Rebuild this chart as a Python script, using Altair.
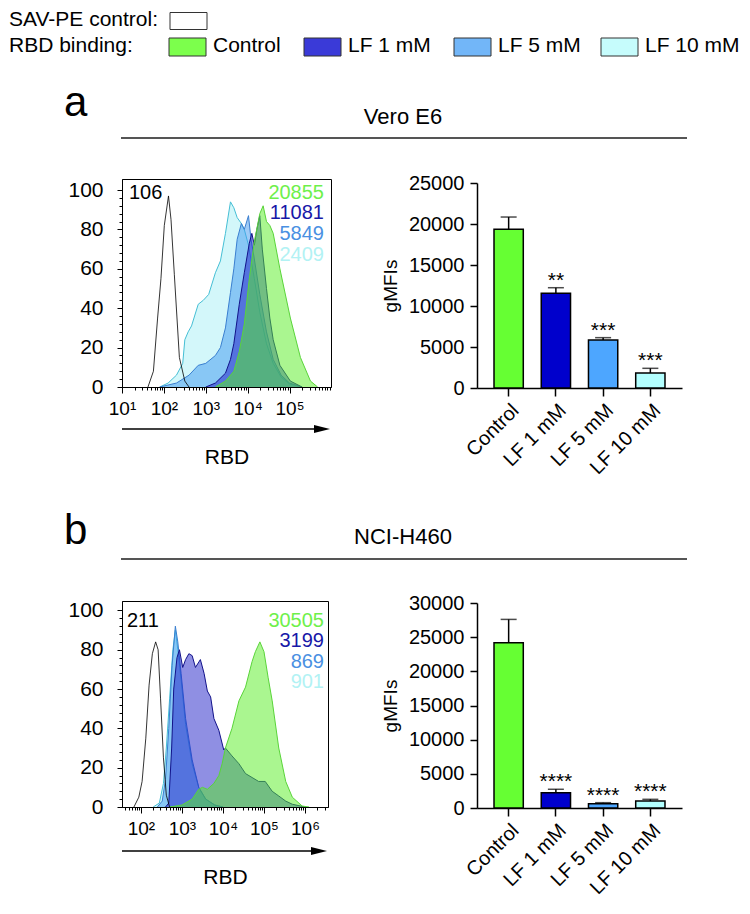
import math
import altair as alt
import pandas as pd

FONT = "Liberation Sans"

# ---------------- data ----------------
GROUPS = ["Control", "LF 1 mM", "LF 5 mM", "LF 10 mM"]
BAR_COLORS = ["#66ff33", "#0000cc", "#4da6ff", "#b3ffff"]
LEGEND_COLORS = ["#7cff4c", "#3a3ad8", "#72b6f8", "#c6fcfc"]
AREA_FILLS = ["#55ee22", "#2020c8", "#3d97f0", "#a8f0f5"]
AREA_LINES = ["#5ad43a", "#12128a", "#3a7fd0", "#45bfd5"]
TEXT_COLORS = ["#6ef04a", "#1818a8", "#4a90e2", "#b2f2f4"]

# bar charts (gMFI mean and SD)
VERO_MEAN = [19350, 11550, 5850, 1830]
VERO_SD = [1500, 680, 290, 570]
VERO_STARS = ["", "**", "***", "***"]
NCI_MEAN = [24200, 2240, 630, 1020]
NCI_SD = [3400, 500, 150, 250]
NCI_STARS = ["", "****", "****", "****"]

# histogram MFI labels: SAV-PE, Control, LF 1, LF 5, LF 10
VERO_MFI = ["106", "20855", "11081", "5849", "2409"]
NCI_MFI = ["211", "30505", "3199", "869", "901"]

# histogram curves (x = log10 RBD, y = % of max)
VERO_SAV_X = [1.62, 1.75, 1.85, 1.93, 2.01, 2.11, 2.17, 2.25, 2.37, 2.5, 2.6]
VERO_SAV_Y = [0, 8, 35, 55, 82, 97, 85, 57, 15, 3, 0]
VERO_CTRL_X = [3.23, 3.47, 3.67, 3.8, 3.92, 4.04, 4.16, 4.29, 4.37, 4.45, 4.53, 4.61, 4.77, 5.02, 5.26, 5.5, 5.67]
VERO_CTRL_Y = [0, 3, 8, 18, 32, 55, 74, 88, 92, 84, 82, 78, 60, 35, 15, 3, 0]
VERO_LF1_X = [3.0, 3.23, 3.47, 3.59, 3.67, 3.8, 3.92, 4.04, 4.1, 4.16, 4.22, 4.29, 4.35, 4.45, 4.53, 4.61, 4.77, 5.02, 5.3]
VERO_LF1_Y = [0, 2, 7, 14, 22, 42, 58, 73, 78, 72, 80, 87, 70, 50, 35, 24, 11, 3, 0]
VERO_LF5_X = [1.9, 2.3, 2.6, 2.82, 3.0, 3.23, 3.35, 3.47, 3.59, 3.67, 3.75, 3.85, 3.92, 4.02, 4.08, 4.16, 4.29, 4.45, 4.61, 4.8, 5.0, 5.3]
VERO_LF5_Y = [0, 2, 6, 11, 12, 16, 20, 30, 48, 60, 75, 83, 80, 87, 75, 65, 47, 28, 14, 6, 2, 0]
VERO_LF10_X = [1.9, 2.1, 2.3, 2.45, 2.5, 2.58, 2.66, 2.82, 2.94, 3.07, 3.23, 3.35, 3.47, 3.59, 3.67, 3.75, 3.85, 3.92, 4.02, 4.16, 4.29, 4.45, 4.61, 4.8, 5.0, 5.3]
VERO_LF10_Y = [0, 2, 6, 12, 24, 28, 31, 42, 44, 47, 58, 64, 78, 94, 91, 86, 83, 80, 72, 55, 38, 22, 12, 5, 1.5, 0]

NCI_SAV_X = [1.83, 1.95, 2.03, 2.12, 2.2, 2.28, 2.36, 2.42, 2.48, 2.55, 2.62, 2.7]
NCI_SAV_Y = [0, 5, 13, 35, 62, 78, 84, 80, 55, 25, 6, 0]
NCI_CTRL_X = [2.7, 3.0, 3.25, 3.41, 3.5, 3.62, 3.78, 3.9, 3.98, 4.06, 4.22, 4.39, 4.55, 4.71, 4.79, 4.9, 5.0, 5.1, 5.2, 5.36, 5.53, 5.69, 5.93, 6.1]
NCI_CTRL_Y = [0, 1, 4, 9, 10, 9, 12, 16, 22, 30, 40, 54, 61, 74, 79, 84, 79, 66, 54, 30, 13, 5, 0.5, 0]
NCI_LF1_X = [2.6, 2.68, 2.75, 2.8, 2.88, 2.94, 3.02, 3.09, 3.17, 3.25, 3.33, 3.45, 3.54, 3.62, 3.7, 3.78, 3.9, 4.02, 4.06, 4.22, 4.39, 4.55, 4.71, 4.87, 5.03, 5.2, 5.36, 5.53, 5.69, 6.0]
NCI_LF1_Y = [0, 2, 30, 60, 76, 80, 71, 75, 78, 77, 71, 75, 68, 59, 56, 45, 39, 29, 30, 26, 22, 17, 15, 13, 13, 8, 5.6, 3, 1.4, 0]
NCI_LF5_X = [2.4, 2.52, 2.6, 2.68, 2.76, 2.84, 2.9, 2.98, 3.09, 3.25, 3.41, 3.58, 3.8, 4.0]
NCI_LF5_Y = [0, 3, 14, 40, 72, 92, 84, 68, 45, 24, 10, 4, 1, 0]
NCI_LF10_X = [2.3, 2.45, 2.55, 2.62, 2.7, 2.78, 2.84, 2.9, 2.98, 3.09, 3.25, 3.41, 3.58, 3.8, 4.0]
NCI_LF10_Y = [0, 2, 12, 30, 55, 80, 90, 80, 65, 42, 22, 10, 4, 1, 0]

DUMMY = pd.DataFrame({"v": [0]})
X0 = 123  # page x of the left column's plot origin
Y0 = 8    # page y of the top row's origin


def hist_panel(curves, sav, mfi, xdom, width, height, ymax, ann_y, left_x, right_x, arrow_dy):
    major = "abs(datum.value - round(datum.value)) < 0.001"
    xvals = []
    for d in range(math.floor(xdom[0]), math.ceil(xdom[1]) + 1):
        for k in range(1, 10):
            v = round(d + math.log10(k), 4)
            if xdom[0] - 1e-9 <= v <= xdom[1] + 1e-9:
                xvals.append(v)
    sup = "['\u2070','\u00b9','\u00b2','\u00b3','\u2074','\u2075','\u2076','\u2077']"
    x_axis = alt.Axis(
        values=xvals,
        labelExpr=f"{major} ? '10' + {sup}[round(datum.value)] : ''",
        tickSize={"condition": {"test": major, "value": 6}, "value": 3},
        labelOverlap=False, labelFlush=False, labelFontSize=19, labelPadding=6,
        titleFontSize=21, titlePadding=28, domainColor="black", tickColor="black",
        labelColor="black", grid=False,
    )
    y_axis = alt.Axis(
        values=list(range(0, 101, 4)),
        labelExpr="datum.value % 20 === 0 ? '' + datum.value : ''",
        tickSize={"condition": {"test": "datum.value % 20 === 0", "value": 5}, "value": 3},
        labelOverlap=False, labelFontSize=21, labelPadding=14,
        domainColor="black", tickColor="black", labelColor="black", grid=False,
    )
    X = alt.X("x:Q", scale=alt.Scale(domain=xdom, nice=False, zero=False), axis=x_axis, title="RBD")
    Y = alt.Y("y:Q", scale=alt.Scale(domain=[0, ymax], nice=False), axis=y_axis, title=None)

    layers = []
    for xs, ys, fill, line in curves:
        df = pd.DataFrame({"x": xs, "y": ys})
        layers.append(
            alt.Chart(df).mark_area(
                color=fill, fillOpacity=0.5, clip=True,
                line=alt.OverlayMarkDef(color=line, strokeWidth=1),
            ).encode(x=X, y=Y)
        )
    sdf = pd.DataFrame({"x": sav[0], "y": sav[1]})
    layers.append(alt.Chart(sdf).mark_line(color="black", strokeWidth=0.8, clip=True).encode(x=X, y=Y))

    # MFI annotations
    tdf = pd.DataFrame({"t": [mfi[0]]})
    layers.append(
        alt.Chart(tdf).mark_text(align="left", baseline="middle", fontSize=20, color="black")
        .encode(x=alt.value(left_x), y=alt.value(ann_y[0]), text="t:N")
    )
    for i in range(4):
        tdf = pd.DataFrame({"t": [mfi[i + 1]]})
        layers.append(
            alt.Chart(tdf).mark_text(align="right", baseline="middle", fontSize=20, color=TEXT_COLORS[i])
            .encode(x=alt.value(right_x), y=alt.value(ann_y[i]), text="t:N")
        )
    # arrow under axis
    layers.append(
        alt.Chart(DUMMY).mark_rule(color="black", strokeWidth=1.6)
        .encode(x=alt.value(0), x2=alt.value(width - 14), y=alt.value(height + arrow_dy))
    )
    layers.append(
        alt.Chart(DUMMY).mark_point(shape="M-1,-0.5L1,0L-1,0.5Z", filled=True, color="black",
                                    opacity=1, size=256, strokeWidth=0)
        .encode(x=alt.value(width - 9), y=alt.value(height + arrow_dy))
    )
    return alt.layer(*layers).properties(
        width=width, height=height, view=alt.ViewBackground(stroke="black", strokeWidth=1)
    )


def bar_panel(means, sds, stars, ymax, step, height, top_off):
    df = pd.DataFrame({
        "g": GROUPS, "m": means,
        "top": [m + s for m, s in zip(means, sds)], "star": stars,
    })
    X = alt.X("g:N", sort=GROUPS, title=None,
              scale=alt.Scale(paddingInner=0.38, paddingOuter=0.36),
              axis=alt.Axis(labelAngle=-45, labelFontSize=20, labelPadding=4, tickSize=8,
                            tickWidth=1.5, domainWidth=1.5, domainColor="black",
                            tickColor="black", labelColor="black"))
    yscale = alt.Scale(domain=[0, ymax], nice=False, range=[height, top_off])
    yaxis = alt.Axis(values=list(range(0, ymax + 1, step)), format="d", labelFontSize=20,
                     labelPadding=6, tickSize=7, tickWidth=1.5, domainWidth=1.5,
                     domainColor="black", tickColor="black", labelColor="black",
                     titleFontSize=19, titleFontWeight="normal", titlePadding=8, grid=False)
    Ym = alt.Y("m:Q", scale=yscale, axis=yaxis, title="gMFIs")
    Yt = alt.Y("top:Q", scale=yscale, axis=yaxis, title="gMFIs")
    base = alt.Chart(df)
    bars = base.mark_bar(stroke="black", strokeWidth=1.5).encode(
        x=X, y=Ym,
        color=alt.Color("g:N", scale=alt.Scale(domain=GROUPS, range=BAR_COLORS), legend=None),
    )
    err = base.mark_rule(color="black", strokeWidth=1.5).encode(x=X, y=Ym, y2="top:Q")
    cap = base.mark_tick(color="black", thickness=1.5, size=16).encode(x=X, y=Yt)
    txt = base.mark_text(baseline="alphabetic", dy=-1, fontSize=21, color="black").encode(
        x=X, y=Yt, text="star:N")
    return alt.layer(bars, err, cap, txt).properties(width=205, height=height)


def header(letter, title, top, height, letter_y, title_y, line_y):
    # all y arguments are page coordinates
    base = alt.Chart(DUMMY)
    a = base.mark_text(text=letter, align="left", baseline="alphabetic", fontSize=42,
                       color="black").encode(x=alt.value(65 - X0), y=alt.value(letter_y - top))
    t = base.mark_text(text=title, align="center", baseline="alphabetic", fontSize=22,
                       color="black").encode(x=alt.value(404 - X0), y=alt.value(title_y - top))
    r = base.mark_rule(color="#555555", strokeWidth=2).encode(
        x=alt.value(122 - X0), x2=alt.value(688 - X0), y=alt.value(line_y - top))
    return alt.layer(a, t, r).properties(width=209, height=height)


def legend_chart(height):
    base = alt.Chart(DUMMY)
    r1, r2 = 10.5, 37
    layers = [
        base.mark_text(text="SAV-PE control:", align="left", baseline="middle", fontSize=21,
                       color="black").encode(x=alt.value(10 - X0), y=alt.value(r1)),
        base.mark_rect(fill="white", stroke="#333333", strokeWidth=1).encode(
            x=alt.value(171 - X0), x2=alt.value(208 - X0), y=alt.value(r1 - 7), y2=alt.value(r1 + 10)),
        base.mark_text(text="RBD binding:", align="left", baseline="middle", fontSize=21,
                       color="black").encode(x=alt.value(10 - X0), y=alt.value(r2)),
    ]
    box_x = [170, 305, 455, 602]
    for i, g in enumerate(GROUPS):
        layers.append(base.mark_rect(fill=LEGEND_COLORS[i], stroke="#333333", strokeWidth=1).encode(
            x=alt.value(box_x[i] - X0), x2=alt.value(box_x[i] + 37 - X0),
            y=alt.value(r2 - 8), y2=alt.value(r2 + 10)))
        layers.append(base.mark_text(text=g, align="left", baseline="middle", fontSize=21,
                                     color="black").encode(
            x=alt.value(box_x[i] + 44 - X0), y=alt.value(r2)))
    return alt.layer(*layers).properties(width=209, height=height)


def blank():
    return alt.Chart(DUMMY).mark_point(opacity=0, size=1).encode(
        x=alt.value(1), y=alt.value(1)).properties(width=205, height=1)


vero_curves = [
    (VERO_LF10_X, VERO_LF10_Y, AREA_FILLS[3], AREA_LINES[3]),
    (VERO_LF5_X, VERO_LF5_Y, AREA_FILLS[2], AREA_LINES[2]),
    (VERO_LF1_X, VERO_LF1_Y, AREA_FILLS[1], AREA_LINES[1]),
    (VERO_CTRL_X, VERO_CTRL_Y, AREA_FILLS[0], AREA_LINES[0]),
]
nci_curves = [
    (NCI_LF10_X, NCI_LF10_Y, AREA_FILLS[3], AREA_LINES[3]),
    (NCI_LF5_X, NCI_LF5_Y, AREA_FILLS[2], AREA_LINES[2]),
    (NCI_LF1_X, NCI_LF1_Y, AREA_FILLS[1], AREA_LINES[1]),
    (NCI_CTRL_X, NCI_CTRL_Y, AREA_FILLS[0], AREA_LINES[0]),
]

hist_a = hist_panel(vero_curves, (VERO_SAV_X, VERO_SAV_Y), VERO_MFI, [1.0, 5.99], 209, 208, 105.6,
                    [14, 34, 55, 76], 7, 202, 42)
hist_b = hist_panel(nci_curves, (NCI_SAV_X, NCI_SAV_Y), NCI_MFI, [1.54, 6.56], 206, 206, 104.8,
                    [20, 40, 61, 81], 5, 202, 44)
bar_a = bar_panel(VERO_MEAN, VERO_SD, VERO_STARS, 25000, 5000, 209, 4)
bar_b = bar_panel(NCI_MEAN, NCI_SD, NCI_STARS, 30000, 5000, 207, 2)

# page rows: legend Y0..55, header a 55..178, row a 178..387, header b 387..600, row b 600..807
cells = [
    legend_chart(55 - Y0), blank(),
    header("a", "Vero E6", 55, 123, 115, 123, 137), blank(),
    hist_a, bar_a,
    header("b", "NCI-H460", 387, 213, 543, 543, 558), blank(),
    hist_b, bar_b,
]

chart = alt.concat(
    *cells, columns=2, spacing={"row": 0, "column": 146}, bounds="flush"
).properties(
    padding={"left": 0, "top": 0, "right": 0, "bottom": 0}
).configure(font=FONT).configure_view(stroke="transparent").configure_axis(
    labelFont=FONT, titleFont=FONT, titleFontWeight="normal", titleColor="black"
)

chart.save("out.html", embed_options={"renderer": "svg", "actions": False})
